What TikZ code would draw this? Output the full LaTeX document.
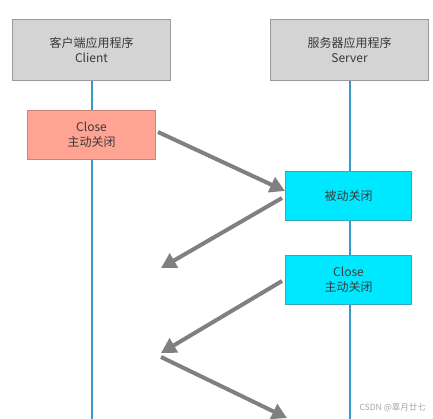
\documentclass[tikz,border=0pt]{standalone}
\usepackage{fontspec}
\setmainfont{Noto Sans CJK SC}
\usetikzlibrary{arrows.meta}
\definecolor{boxgray}{HTML}{D4D4D4}
\definecolor{boxedge}{HTML}{9A9A9A}
\definecolor{activefill}{HTML}{FFA392}
\definecolor{activeedge}{HTML}{C98476}
\definecolor{passivefill}{HTML}{00E8FF}
\definecolor{passiveedge}{HTML}{3BA3C4}
\definecolor{lifeblue}{HTML}{3A98C8}
\definecolor{msggray}{HTML}{808080}
\definecolor{txtgray}{HTML}{3A3A3A}
\tikzset{
  appbox/.style={draw=boxedge, fill=boxgray, line width=1pt, minimum width=158pt, minimum height=61pt,
    inner sep=0pt, align=center, text=txtgray, font=\fontsize{12}{15}\selectfont},
  closebox/.style={draw=activeedge, fill=activefill, line width=1pt, minimum width=128pt, minimum height=49pt,
    inner sep=0pt, align=center, text=txtgray, font=\fontsize{12}{15}\selectfont},
  passbox/.style={draw=passiveedge, fill=passivefill, line width=1pt, minimum width=126pt, minimum height=49pt,
    inner sep=0pt, align=center, text=txtgray, font=\fontsize{12}{15}\selectfont},
  lifeline/.style={draw=lifeblue, line width=2pt},
  msg/.style={draw=msggray, line width=4pt, -{Triangle[length=15pt,width=16pt]}}
}
\begin{document}
\begin{tikzpicture}[x=1pt,y=-1pt]
  \useasboundingbox (0,0) rectangle (433,419);
  % lifelines
  \coordinate (clientend) at (91.5,419);
  \coordinate (serverend) at (349.5,419);
  \draw[lifeline] (91.5,81) -- (clientend);
  \draw[lifeline] (349.5,81) -- (serverend);
  % boxes
  \node[appbox] (client) at (91.5,50) {客户端应用程序\\Client};
  \node[appbox] (server) at (349.5,50) {服务器应用程序\\Server};
  \node[closebox] (cclose) at (91.5,135) {Close\\主动关闭};
  \node[passbox] (spassive) at (348.5,196) {被动关闭};
  \node[passbox] (sclose) at (348.5,280) {Close\\主动关闭};
  % messages
  \coordinate (m1s) at (158,132);
  \coordinate (m1e) at (285,191);
  \coordinate (m2s) at (282,198);
  \coordinate (m2e) at (161,268);
  \coordinate (m3s) at (282,281);
  \coordinate (m3e) at (161,353);
  \coordinate (m4s) at (161,357);
  \coordinate (m4e) at (287,418);
  \draw[msg] (m1s) -- (m1e);
  \draw[msg] (m2s) -- (m2e);
  \draw[msg] (m3s) -- (m3e);
  \draw[msg] (m4s) -- (m4e);
  % watermark
  \node[anchor=east, text=gray!70, font=\fontsize{8.5}{10}\selectfont, inner sep=0pt] (mark) at (426,408) {CSDN @辜月廿七};
\end{tikzpicture}
\end{document}
